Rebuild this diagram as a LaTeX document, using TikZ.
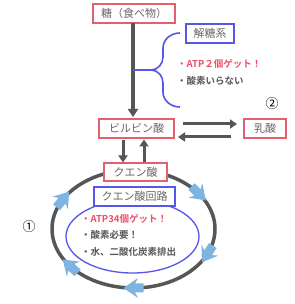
\documentclass[tikz,border=0pt]{standalone}
\usepackage{fontspec}
\newfontfamily\jp{Noto Sans CJK JP}
\newfontfamily\jpb{Noto Sans CJK JP Bold}
\usetikzlibrary{arrows.meta,calc}
\definecolor{boxred}{HTML}{E5606E}
\definecolor{txtred}{HTML}{EE4F66}
\definecolor{boxblue}{HTML}{5656E8}
\definecolor{dgray}{HTML}{565656}
\definecolor{txtgray}{HTML}{666666}
\definecolor{ltblue}{HTML}{80B4E0}
\tikzset{
  redbox/.style={draw=boxred, line width=1.6pt, fill=white, minimum height=19pt, inner sep=0pt, text=txtgray, font=\jp\fontsize{11}{11}\selectfont},
  bluebox/.style={draw=boxblue, line width=1.6pt, fill=white, minimum height=19pt, inner sep=0pt, text=txtgray, font=\jp\fontsize{11}{11}\selectfont},
  garrow/.style={draw=dgray, line width=3pt, -{Triangle[length=7pt,width=9pt]}},
  bigarrow/.style={draw=dgray, line width=3.5pt, -{Triangle[length=8pt,width=10pt]}},
  redtxt/.style={anchor=west, inner sep=0pt, text=txtred, font=\jpb\fontsize{9.5}{10}\selectfont},
  graytxt/.style={anchor=west, inner sep=0pt, text=dgray, font=\jpb\fontsize{9.5}{10}\selectfont},
  cycpath/.style={fill=ltblue, draw=none},
  numtxt/.style={inner sep=0pt, text=black, font=\jp\fontsize{13}{13}\selectfont}
}
\newcommand{\cycarrow}[2]{%
  \begin{scope}[shift={(#1)}, rotate=#2]
    \fill[cycpath] (-10,-4.5) -- (-1.5,-4.5) -- (-4.5,-10) -- (10,0) -- (-4.5,10) -- (-1.5,4.5) -- (-10,4.5) -- cycle;
  \end{scope}}
\begin{document}
\begin{tikzpicture}[x=1pt,y=1pt]
\useasboundingbox[fill=white] (0,0) rectangle (294,304);
% cycle ellipses
\coordinate (cc) at (133.5,75);
\draw[dgray, line width=3.5pt] (cc) ellipse [x radius=81.5pt, y radius=59pt];
\draw[boxblue, line width=1.3pt] (132.5,67.5) ellipse [x radius=66.5pt, y radius=36.5pt];
% cycle arrows
\coordinate (p1) at ($(cc)+(150:81.5pt and 59pt)$);
\coordinate (p2) at ($(cc)+(37:81.5pt and 59pt)$);
\coordinate (p3) at ($(cc)+(-25:81.5pt and 59pt)$);
\coordinate (p4) at ($(cc)+(-90:81.5pt and 59pt)$);
\coordinate (p5) at ($(cc)+(-141:81.5pt and 59pt)$);
\cycarrow{p1}{51}
\cycarrow{p2}{-44}
\cycarrow{p3}{-123}
\cycarrow{p4}{180}
\cycarrow{p5}{138}
% boxes
\node[redbox, minimum width=82pt] (sugar) at (134,290.5) {糖（食べ物）};
\node[bluebox, minimum width=48pt] (glyc) at (210,270.5) {解糖系};
\node[redbox, minimum width=75pt] (pyr) at (136.5,175.5) {ビルビン酸};
\node[redbox, minimum width=42pt] (lac) at (265,175.5) {乳酸};
\node[redbox, minimum width=63pt, minimum height=18pt] (cit) at (135.5,132) {クエン酸};
\node[bluebox, minimum width=81pt] (tca) at (134.5,107.5) {クエン酸回路};
% main arrow
\coordinate (mtop) at (133,281);
\coordinate (mbot) at (133,187);
\draw[bigarrow] (mtop) -- (mbot);
% brace
\coordinate (bstart) at (133,234);
\coordinate (btop) at (180,271);
\coordinate (bbot) at (180,197);
\draw[boxblue, line width=1.6pt, line join=round]
  (btop) to[out=180,in=90] (163,256) -- (163,247) to[out=-90,in=0] (151,234)
  to[out=0,in=90] (163,221) -- (163,212) to[out=-90,in=180] (bbot);
\draw[boxblue, line width=1.6pt] (bstart) -- (151,234);
% glycolysis texts
\node[redtxt] (g1) at (177,240) {・ATP２個ゲット！};
\node[graytxt] (g2) at (177,223) {・酸素いらない};
% pyruvate <-> lactate
\coordinate (ra1) at (183,180);
\coordinate (ra2) at (237,180);
\coordinate (la1) at (231,167);
\coordinate (la2) at (178,167);
\draw[garrow] (ra1) -- (ra2);
\draw[garrow] (la1) -- (la2);
% pyruvate <-> citrate
\coordinate (d1) at (123,164);
\coordinate (d2) at (123,141.5);
\coordinate (u1) at (144,141.5);
\coordinate (u2) at (144,164.5);
\draw[garrow] (d1) -- (d2);
\draw[garrow] (u1) -- (u2);
% cycle texts
\node[redtxt] (t1) at (81,85) {・ATP34個ゲット！};
\node[graytxt] (t2) at (81,69) {・酸素必要！};
\node[graytxt] (t3) at (81,52) {・水、二酸化炭素排出};
% numbers
\node[numtxt] (n1) at (29,77) {①};
\node[numtxt] (n2) at (272,200) {②};
\end{tikzpicture}
\end{document}
